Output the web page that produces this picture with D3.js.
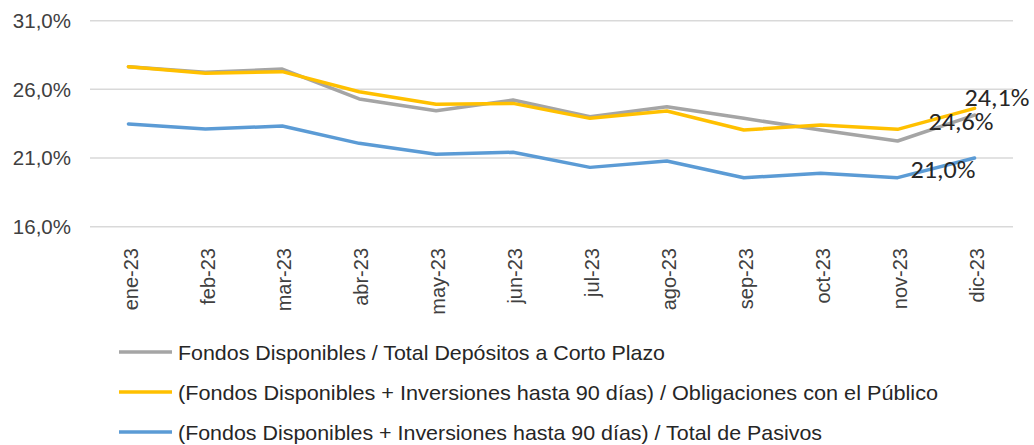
<!DOCTYPE html>
<html><head><meta charset="utf-8">
<script src="https://cdn.jsdelivr.net/npm/d3@7"></script>
<style>html,body{margin:0;padding:0;background:#fff}svg{display:block}</style>
</head><body>
<svg id="c" width="1034" height="445"></svg>
<script>
const categories = ["ene-23","feb-23","mar-23","abr-23","may-23","jun-23","jul-23","ago-23","sep-23","oct-23","nov-23","dic-23"];
const seriesNames = [
  "Fondos Disponibles / Total Depósitos a Corto Plazo",
  "(Fondos Disponibles + Inversiones hasta 90 días) / Obligaciones con el Público",
  "(Fondos Disponibles + Inversiones hasta 90 días) / Total de Pasivos"
];
const grayValues   = [27.65, 27.24, 27.48, 25.30, 24.45, 25.22, 24.00, 24.74, 23.89, 23.04, 22.24, 24.13];
const yellowValues = [27.65, 27.17, 27.29, 25.83, 24.91, 24.98, 23.89, 24.42, 23.04, 23.40, 23.09, 24.62];
const blueValues   = [23.48, 23.11, 23.33, 22.07, 21.27, 21.42, 20.32, 20.78, 19.57, 19.89, 19.57, 21.00];
const yTicks = [16, 21, 26, 31];
const endLabels = ["24,1%", "24,6%", "21,0%"];

const colors = ["#A5A5A5", "#FFC000", "#5B9BD5"];
const labelOffsets = [[-10, -9], [-46, 22], [-64, 20]];
const legendWidths = [487, 760, 644];
const series = [grayValues, yellowValues, blueValues];

const svg = d3.select("#c");
const x = d3.scaleBand().domain(categories).range([90, 1013]);
const y = d3.scaleLinear().domain([16, 31]).range([226.7, 20.7]);
const cx = c => x(c) + x.bandwidth() / 2;
const fmt = v => d3.format(".1f")(v).replace(".", ",") + "%";

// gridlines
svg.append("g").selectAll("line").data(yTicks).join("line")
  .attr("x1", 90).attr("x2", 1013)
  .attr("y1", d => y(d)).attr("y2", d => y(d))
  .attr("stroke", "#D9D9D9").attr("stroke-width", 1.5);

// y labels
svg.append("g").selectAll("text").data(yTicks).join("text")
  .attr("x", 71).attr("y", d => y(d)).attr("dy", "0.36em")
  .attr("text-anchor", "end")
  .attr("font-family", "Liberation Sans, Arial, sans-serif")
  .attr("font-size", 20.5).attr("fill", "#404040")
  .text(fmt);

// x labels
svg.append("g").selectAll("text").data(categories).join("text")
  .attr("transform", d => `translate(${cx(d) + 2},248) rotate(-90)`)
  .attr("dy", "0.36em").attr("text-anchor", "end")
  .attr("font-family", "Liberation Sans, Arial, sans-serif")
  .attr("font-size", 20).attr("fill", "#404040")
  .text(d => d);

// lines
const line = d3.line().x((d, i) => cx(categories[i])).y(d => y(d));
series.forEach((vals, s) => {
  svg.append("path").datum(vals)
    .attr("d", line).attr("fill", "none")
    .attr("stroke", colors[s]).attr("stroke-width", 3.5)
    .attr("stroke-linejoin", "round").attr("stroke-linecap", "round");
});

// end labels
series.forEach((vals, s) => {
  const last = categories.length - 1;
  svg.append("text")
    .attr("x", cx(categories[last]) + labelOffsets[s][0])
    .attr("y", y(vals[last]) + labelOffsets[s][1])
    .attr("font-family", "Carlito, Calibri, Lato, sans-serif")
    .attr("font-size", 25).attr("fill", "#262626")
    .attr("textLength", 65).attr("lengthAdjust", "spacingAndGlyphs")
    .text(endLabels[s]);
});

// legend
const legY = [352, 392, 432];
seriesNames.forEach((n, s) => {
  svg.append("line").attr("x1", 119).attr("x2", 172)
    .attr("y1", legY[s]).attr("y2", legY[s])
    .attr("stroke", colors[s]).attr("stroke-width", 3.5);
  svg.append("text").attr("x", 178).attr("y", legY[s]).attr("dy", "0.36em")
    .attr("font-family", "Liberation Sans, Arial, sans-serif")
    .attr("font-size", 21).attr("fill", "#262626")
    .attr("textLength", legendWidths[s]).attr("lengthAdjust", "spacingAndGlyphs")
    .text(n);
});
</script>
</body></html>
